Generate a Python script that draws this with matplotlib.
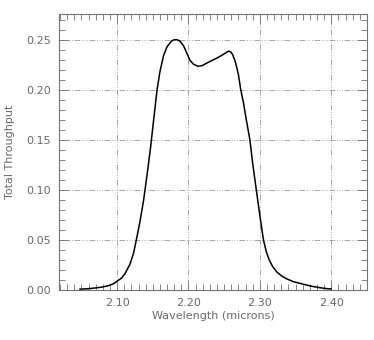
import matplotlib
matplotlib.use("Agg")
import matplotlib.pyplot as plt
from matplotlib.ticker import MultipleLocator

# filter throughput curve, wavelength in microns
wavelength = [2.048, 2.060, 2.069, 2.078, 2.088, 2.095, 2.100, 2.106, 2.111,
              2.118, 2.123, 2.127, 2.132, 2.137, 2.142, 2.147, 2.152, 2.156,
              2.160, 2.165, 2.170, 2.176, 2.180, 2.184, 2.188, 2.193, 2.198,
              2.202, 2.207, 2.213, 2.219, 2.226, 2.233, 2.240, 2.247, 2.252,
              2.256, 2.259, 2.262, 2.266, 2.270, 2.273, 2.277, 2.281, 2.286,
              2.290, 2.295, 2.300, 2.305, 2.309, 2.313, 2.318, 2.324, 2.331,
              2.338, 2.347, 2.357, 2.366, 2.375, 2.385, 2.393, 2.400]
throughput = [0.0005, 0.0010, 0.0017, 0.0025, 0.0040, 0.0060, 0.0085, 0.0115, 0.0160,
              0.0255, 0.0365, 0.0500, 0.0680, 0.0890, 0.1150, 0.1430, 0.1750, 0.2000,
              0.2180, 0.2340, 0.2430, 0.2485, 0.2500, 0.2500, 0.2485, 0.2440, 0.2360,
              0.2295, 0.2255, 0.2235, 0.2240, 0.2267, 0.2292, 0.2317, 0.2345, 0.2368,
              0.2385, 0.2380, 0.2350, 0.2270, 0.2150, 0.2010, 0.1870, 0.1700, 0.1500,
              0.1260, 0.1000, 0.0740, 0.0500, 0.0380, 0.0300, 0.0230, 0.0175, 0.0135,
              0.0107, 0.0080, 0.0062, 0.0045, 0.0031, 0.0019, 0.0011, 0.0007]

text_color = "#6a6a6a"
frame_color = "#737373"

plt.rcParams["font.family"] = "DejaVu Sans"
plt.rcParams["font.size"] = 8

fig = plt.figure(figsize=(3.74, 3.40), dpi=100)
ax = fig.add_axes([0.158, 0.148, 0.824, 0.812])

ax.plot(wavelength, throughput, color="black", lw=1.1, zorder=3)

ax.set_xlim(2.0187, 2.4505)
ax.set_ylim(0.0, 0.2761)

ax.xaxis.set_major_locator(MultipleLocator(0.1))
ax.xaxis.set_minor_locator(MultipleLocator(0.01))
ax.yaxis.set_major_locator(MultipleLocator(0.05))
ax.yaxis.set_minor_locator(MultipleLocator(0.01))
ax.xaxis.set_major_formatter(lambda v, pos: f"{v:.2f}")
ax.yaxis.set_major_formatter(lambda v, pos: f"{v:.2f}")

ax.tick_params(which="both", direction="in", top=True, right=True,
               color=frame_color, labelcolor=text_color, width=0.6)
ax.tick_params(which="major", length=7, pad=6)
ax.tick_params(which="minor", length=4)

# dash-dot-dot-dot grid
ax.grid(True, which="major", color="#999999", lw=0.6,
        dashes=(7, 2, 1, 2, 1, 2, 1, 2))

for spine in ax.spines.values():
    spine.set_color(frame_color)
    spine.set_linewidth(0.8)

ax.set_xlabel("Wavelength (microns)", color=text_color, labelpad=2)
ax.set_ylabel("Total Throughput", color=text_color, labelpad=8)

fig.savefig("out.png", dpi=100)
